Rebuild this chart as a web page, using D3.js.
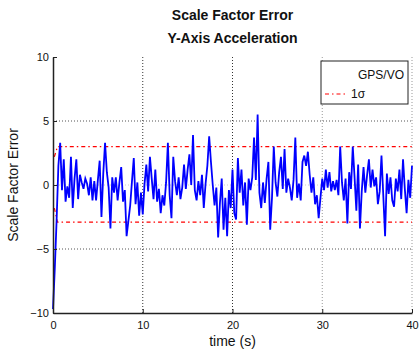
<!DOCTYPE html>
<html lang="en">
<head>
    <meta charset="UTF-8">
    <title>Scale Factor Error</title>
    <script src="https://d3js.org/d3.v7.min.js"></script>
    <style>
        body { margin: 0; background: #fff; }
        svg { font-family: "Liberation Sans", Arial, sans-serif; }
    </style>
</head>
<body>
    <svg id="chart" width="419" height="352"></svg>

    <script>
        // data
        const titleLines = ["Scale Factor Error", "Y-Axis Acceleration"];
        const xTicks = [0, 10, 20, 30, 40];
        const yTicks = [-10, -5, 0, 5, 10];
        const sampleStep = 0.2; // seconds between samples
        const errVals = [
            -9.7, -6.5, -2.8, 1.5, 3.3, -0.4, 2.0, -1.3, -0.1, -1.0,
            2.2, -1.8, 0.5, 2.0, -1.1, 0.8, 0.2, -0.3, 0.5, 0.1,
            -0.8, 0.6, -1.2, 0.3, -1.2, 0.4, 1.9, -2.5, 0.9, 3.3,
            1.0, -0.2, -3.4, 0.6, -0.6, 0.6, -1.2, 0.2, 1.4, -1.3,
            -0.4, -4.0, -2.8, -1.6, 0.3, 2.1, -1.5, 0.2, -2.4, -0.6,
            -2.3, 0.1, 1.6, -0.5, 2.2, 0.5, -1.1, 1.2, -1.3, -0.3,
            -2.2, -0.8, -1.6, 0.2, 3.3, -0.8, -2.6, 2.2, 0.3, -0.8,
            0.6, -1.1, -0.2, 1.6, -0.3, 1.2, 2.4, 0.0, 3.9, -0.4,
            -1.2, 0.3, -0.8, 0.8, -1.8, 0.1, 1.5, 3.8, 1.8, 0.0,
            -1.6, -0.2, -4.1, -1.4, 0.5, -3.5, -1.0, -4.0, -0.4, -1.8,
            1.2, -2.2, -2.7, 2.1, -0.6, 1.2, -1.6, 0.2, -3.1, 0.5,
            -0.4, 0.6, 3.7, 0.4, 5.5, -0.6, -1.8, 0.2, -1.4, 0.5,
            1.8, -3.5, -1.0, 3.0, 0.2, -0.9, 1.0, 2.2, -0.3, 2.8,
            -0.6, 0.5, -0.2, -1.2, 0.4, 3.7, -1.0, 0.1, -1.2, 1.8,
            2.3, 1.5, 2.6, 0.8, -0.6, 0.6, -1.5, -0.8, -2.6, -1.0,
            0.5, -0.4, 1.2, -0.2, 1.0, -0.5, 0.3, -0.4, 0.4, -0.8,
            3.0, 0.2, -1.2, 0.5, -3.0, 1.0, -0.3, 3.0, 0.6, -2.0,
            1.6, -3.4, -0.5, 1.4, -0.6, 0.8, 2.0, -0.2, 1.2, -0.1,
            0.6, -1.5, -0.5, 2.3, -0.8, -4.0, 0.9, -0.7, 0.6, -1.2,
            -1.7, 0.5, -0.5, 1.2, -1.1, 2.0, -0.3, -2.2, 0.4, -1.0,
            1.5
        ];
        // 1-sigma bounds
        const sigmaTime = [0.15, 0.5, 40];
        const sigmaUpper = [2.2, 3.0, 3.0];
        const sigmaLower = [-1.8, -2.9, -2.9];
        const legendLabels = ["GPS/VO", "1\u03c3"];

        const margin = { top: 57, right: 7, bottom: 39, left: 53 },
            width = 419 - margin.left - margin.right,
            height = 352 - margin.top - margin.bottom;

        const svg = d3.select("#chart");
        const g = svg.append("g")
            .attr("transform", `translate(${margin.left},${margin.top})`);

        const x = d3.scaleLinear().domain([0, 40]).range([0, width]);
        const y = d3.scaleLinear().domain([-10, 10]).range([height, 0]);

        // grid
        g.selectAll(".gx")
            .data(xTicks.slice(1))
            .join("line")
            .attr("x1", d => x(d)).attr("x2", d => x(d))
            .attr("y1", 0).attr("y2", height)
            .attr("stroke", d => d >= 30 ? "#999" : "#333")
            .attr("stroke-width", 1)
            .attr("stroke-dasharray", "1,2");
        g.selectAll(".gy")
            .data(yTicks.slice(1, -1))
            .join("line")
            .attr("x1", 0).attr("x2", width)
            .attr("y1", d => y(d)).attr("y2", d => y(d))
            .attr("stroke", d => d === 0 ? "#ccc" : "#555")
            .attr("stroke-width", 1)
            .attr("stroke-dasharray", "1,2");

        // sigma lines
        const sigLine = d3.line()
            .x((d, i) => x(sigmaTime[i]))
            .y(d => y(d));
        [sigmaUpper, sigmaLower].forEach(s => {
            g.append("path")
                .attr("fill", "none")
                .attr("stroke", "#ff0000")
                .attr("stroke-width", 1.2)
                .attr("stroke-dasharray", "4,3,1.5,3")
                .attr("d", sigLine(s));
        });

        // error series
        const errLine = d3.line()
            .x((d, i) => x(i * sampleStep))
            .y(d => y(d));
        g.append("path")
            .attr("fill", "none")
            .attr("stroke", "#0000ff")
            .attr("stroke-width", 1.8)
            .attr("d", errLine(errVals));

        // axes
        const xAxis = g.append("g")
            .attr("transform", `translate(0,${height})`)
            .call(d3.axisBottom(x).tickValues(xTicks).tickSizeInner(-4).tickSizeOuter(0).tickPadding(8));
        const yAxis = g.append("g")
            .call(d3.axisLeft(y).tickValues(yTicks).tickSizeInner(-4).tickSizeOuter(0).tickPadding(4));
        [xAxis, yAxis].forEach(a => {
            a.select(".domain").attr("stroke", "#222").attr("stroke-width", 1.5);
            a.selectAll(".tick line").attr("stroke", "#222");
            a.selectAll("text")
                .attr("font-size", 11)
                .attr("fill", "#111")
                .attr("font-family", "Liberation Sans, Arial, sans-serif");
        });

        // titles
        svg.selectAll(".title")
            .data(titleLines)
            .join("text")
            .attr("x", margin.left + width / 2)
            .attr("y", (d, i) => 20 + i * 23)
            .attr("text-anchor", "middle")
            .attr("font-size", 14)
            .attr("font-weight", "bold")
            .attr("fill", "#111")
            .text(d => d);

        svg.append("text")
            .attr("x", margin.left + width / 2)
            .attr("y", 346)
            .attr("text-anchor", "middle")
            .attr("font-size", 14)
            .attr("fill", "#111")
            .text("time (s)");

        svg.append("text")
            .attr("transform", `translate(18,${margin.top + height / 2}) rotate(-90)`)
            .attr("text-anchor", "middle")
            .attr("font-size", 14)
            .attr("fill", "#111")
            .text("Scale Factor Error");

        // legend
        const lg = svg.append("g").attr("transform", "translate(321,61)");
        lg.append("rect")
            .attr("width", 87).attr("height", 43)
            .attr("fill", "#fff")
            .attr("stroke", "#222")
            .attr("stroke-width", 1);
        lg.append("text")
            .attr("x", 83).attr("y", 18)
            .attr("text-anchor", "end")
            .attr("font-size", 12)
            .attr("fill", "#111")
            .text(legendLabels[0]);
        lg.append("line")
            .attr("x1", 4).attr("x2", 27)
            .attr("y1", 33).attr("y2", 33)
            .attr("stroke", "#ff0000")
            .attr("stroke-width", 1.2)
            .attr("stroke-dasharray", "4,3,1.5,3");
        lg.append("text")
            .attr("x", 30).attr("y", 37)
            .attr("font-size", 12)
            .attr("fill", "#111")
            .text(legendLabels[1]);
    </script>
</body>
</html>
